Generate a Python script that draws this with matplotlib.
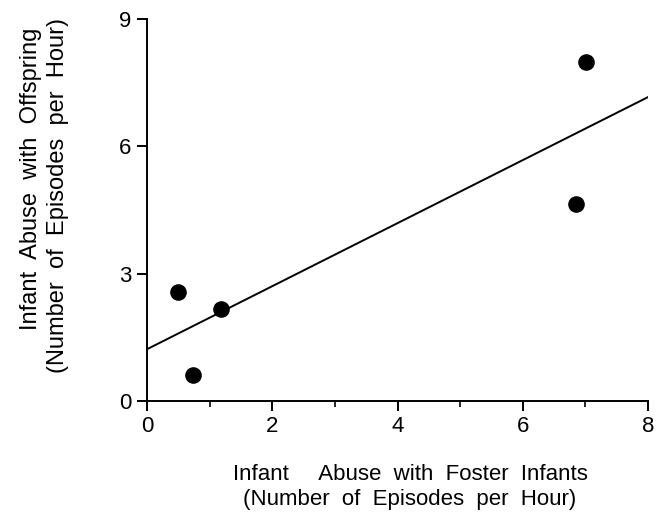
import matplotlib
matplotlib.use("Agg")
import matplotlib.pyplot as plt
from matplotlib.ticker import MultipleLocator

plt.rcParams['font.family'] = ['Liberation Sans', 'DejaVu Sans']

foster_x = [0.50, 0.74, 1.18, 7.01, 6.85]
offspring_y = [2.57, 0.61, 2.17, 7.98, 4.65]
fit_x = [0, 8]
fit_y = [1.22, 7.16]
xticks = [0, 2, 4, 6, 8]
yticks = [0, 3, 6, 9]

fig = plt.figure(figsize=(6.64, 5.15), dpi=100)
ax = fig.add_axes([147/664, 1-401/515, (648-147)/664, (401-19)/515])
ax.scatter(foster_x, offspring_y, s=120, color='black', zorder=3, clip_on=False)
ax.plot(fit_x, fit_y, color='black', lw=1.4)
ax.set_xlim(0, 8)
ax.set_ylim(0, 9)
ax.set_xticks(xticks)
ax.set_yticks(yticks)
ax.xaxis.set_minor_locator(MultipleLocator(1))
for s in ['top', 'right']:
    ax.spines[s].set_visible(False)
for s in ['left', 'bottom']:
    ax.spines[s].set_linewidth(1.4)
ax.tick_params(axis='both', which='major', direction='out', length=7, width=1.4,
               labelsize=16, pad=4)
ax.tick_params(axis='x', which='minor', direction='out', length=4, width=1.2)
ax.tick_params(axis='y', which='minor', length=0)

fs = 16
fig.text(410/664, 1-475/515, "Infant     Abuse  with  Foster  Infants", ha='center', va='center', fontsize=fs)
fig.text(410/664, 1-499/515, "(Number  of  Episodes  per  Hour)", ha='center', va='center', fontsize=fs)
fig.text(31/664, 1-179/515, "Infant  Abuse  with  Offspring", ha='center', va='center', fontsize=17, rotation=90)
fig.text(58/664, 1-196/515, "(Number  of  Episodes  per  Hour)", ha='center', va='center', fontsize=17, rotation=90)

fig.savefig("out.png", dpi=100)
